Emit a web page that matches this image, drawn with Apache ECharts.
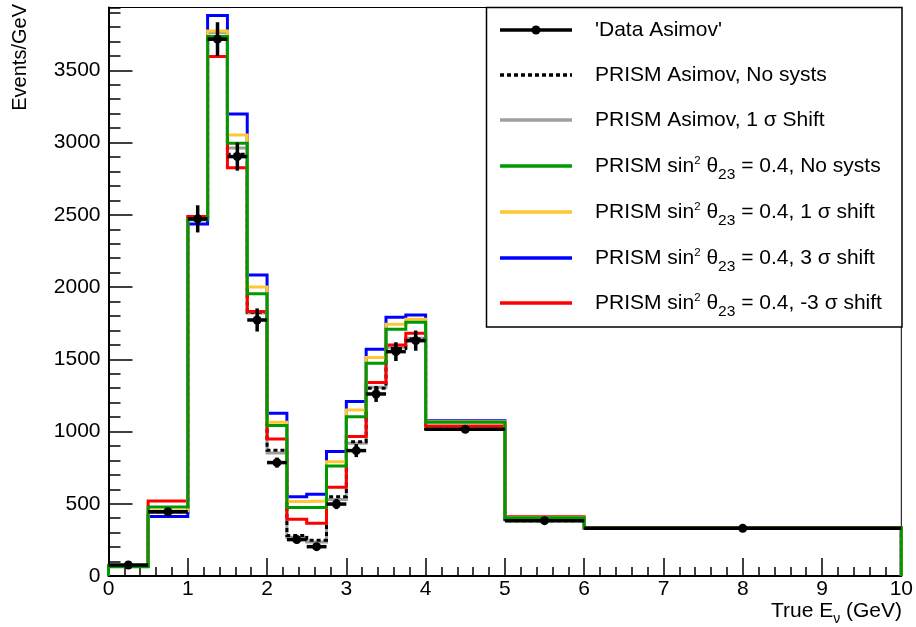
<!DOCTYPE html>
<html>
<head>
<meta charset="utf-8">
<script src="https://cdn.jsdelivr.net/npm/echarts@6/dist/echarts.min.js"></script>
<style>
html,body{margin:0;padding:0;background:#fff;}
#chart{width:916px;height:627px;}
</style>
</head>
<body>
<div id="chart"></div>
<script>
// ---- data ----
const binEdges = [0, 0.5, 1, 1.25, 1.5, 1.75, 2, 2.25, 2.5, 2.75, 3, 3.25, 3.5, 3.75, 4, 5, 6, 10];
const dataAsimov    = [76, 445, 2472, 3716, 2903, 1772, 785, 252, 203, 498, 868, 1260, 1553, 1629, 1016, 383, 330];
const dataAsimovErr = [10, 20, 94, 117, 97, 80, 35, 25, 25, 35, 45, 55, 65, 70, 15, 10, 5];
const prismNoSysts  = [72, 445, 2472, 3716, 2920, 1826, 870, 280, 248, 549, 930, 1300, 1575, 1640, 1016, 383, 330];
const prism1Sigma   = [70, 440, 2468, 3760, 2963, 1821, 852, 268, 235, 530, 919, 1306, 1583, 1646, 1020, 388, 330];
const th04NoSysts   = [64, 478, 2465, 3734, 2996, 1953, 1041, 475, 475, 762, 1103, 1473, 1708, 1756, 1064, 403, 332];
const th04Shift1    = [68, 452, 2468, 3773, 3053, 2001, 1064, 515, 519, 791, 1149, 1512, 1743, 1777, 1068, 405, 332];
const th04Shift3    = [66, 411, 2437, 3879, 3198, 2084, 1126, 549, 566, 861, 1207, 1570, 1791, 1807, 1074, 402, 332];
const th04ShiftM3   = [70, 519, 2488, 3596, 2825, 1830, 949, 392, 365, 614, 965, 1339, 1599, 1680, 1039, 410, 333];
const xTicks = [0, 1, 2, 3, 4, 5, 6, 7, 8, 9, 10];
const yTicks = [0, 500, 1000, 1500, 2000, 2500, 3000, 3500];
const legendNames = [
  "'Data Asimov'",
  'PRISM Asimov, No systs',
  'PRISM Asimov, 1 σ Shift',
  'PRISM sin² θ23 = 0.4, No systs',
  'PRISM sin² θ23 = 0.4, 1 σ shift',
  'PRISM sin² θ23 = 0.4, 3 σ shift',
  'PRISM sin² θ23 = 0.4, -3 σ shift'
];
const yMax = 3935;

const FONT = 'Liberation Sans';

function stepPoints(vals) {
  const pts = [[binEdges[0], 0]];
  for (let i = 0; i < vals.length; i++) pts.push([binEdges[i], vals[i]]);
  pts.push([binEdges[binEdges.length - 1], vals[vals.length - 1]]);
  pts.push([binEdges[binEdges.length - 1], 0]);
  return pts;
}
function histSeries(name, vals, color, dash, z) {
  return {
    name: name, type: 'line', step: 'end', data: stepPoints(vals),
    symbol: 'none', showSymbol: false, silent: true, animation: false, z: z,
    lineStyle: { color: color, width: 3, type: dash || 'solid', cap: 'butt', join: 'miter' }
  };
}
const dataRows = dataAsimov.map((v, i) => [binEdges[i], binEdges[i + 1], v, dataAsimovErr[i]]);

// text measuring for super/subscript composition
const mctx = document.createElement('canvas').getContext('2d');
function textW(t, size) { mctx.font = size + 'px "' + FONT + '"'; return mctx.measureText(t).width; }
function composeText(parts, x, y, alignRight, z) {
  const total = parts.reduce((s, p) => s + textW(p.t, p.s), 0);
  let cx = alignRight ? x - total : x;
  const out = [];
  parts.forEach(p => {
    out.push({
      type: 'text', x: cx, y: y + (p.dy || 0), z: z,
      style: { text: p.t, fontSize: p.s, fontFamily: FONT, fill: '#000', align: 'left', verticalAlign: 'middle' }
    });
    cx += textW(p.t, p.s);
  });
  return out;
}
function legendParts(name) {
  const m = name.match(/^PRISM sin² θ23(.*)$/);
  if (m) return [
    { t: 'PRISM sin', s: 21 }, { t: '2', s: 11.5, dy: -5 }, { t: ' θ', s: 21 },
    { t: '23', s: 15.5, dy: 8.5 }, { t: m[1], s: 21 }
  ];
  return [{ t: name, s: 21 }];
}

const chart = echarts.init(document.getElementById('chart'), null, { renderer: 'canvas' });

// legend drawn as graphic
const legX = 486.5, legY = 7.5, legW = 415.5, legH = 319.5;
const rowY = [30, 75, 120, 166, 212, 258, 303];
const legColors = ['#000', '#000', '#9e9e9e', '#009900', '#ffc833', '#0000ff', '#ff0000'];
let graphics = [{
  type: 'rect', shape: { x: legX, y: legY, width: legW, height: legH },
  style: { fill: '#fff', stroke: '#000', lineWidth: 1.5 }, z: 100
}];
legendNames.forEach((name, i) => {
  graphics.push({
    type: 'line', shape: { x1: 500, y1: rowY[i], x2: 572, y2: rowY[i] },
    style: { stroke: legColors[i], lineWidth: 3.5, lineDash: i === 1 ? [4, 3] : null }, z: 101
  });
  if (i === 0) {
    graphics.push({ type: 'circle', shape: { cx: 536, cy: rowY[i], r: 4.5 }, style: { fill: '#000' }, z: 102 });
  }
  graphics = graphics.concat(composeText(legendParts(name), 595, rowY[i], false, 102));
});
// axis titles
graphics.push({
  type: 'text', x: 20.5, y: 4, rotation: Math.PI / 2,
  style: { text: 'Events/GeV', fontFamily: FONT, fontSize: 20, fill: '#000', align: 'right', verticalAlign: 'middle' }, z: 50
});
graphics = graphics.concat(composeText([
  { t: 'True E', s: 21 }, { t: 'ν', s: 14, dy: 7.3 }, { t: ' (GeV)', s: 21 }
], 902, 611.7, true, 50));

const option = {
  animation: false,
  backgroundColor: '#fff',
  grid: { left: 108.5, right: 14, top: 7.5, bottom: 51, show: true, borderColor: '#000', borderWidth: 1, backgroundColor: 'transparent' },
  xAxis: [{
    type: 'value', min: 0, max: 10, interval: 1,
    axisLine: { show: true, onZero: false, lineStyle: { color: '#000', width: 2 } },
    axisTick: { show: true, inside: true, length: 18, lineStyle: { color: '#000', width: 1.5 } },
    minorTick: { show: true, splitNumber: 5, length: 9, lineStyle: { color: '#000', width: 1.5 } },
    axisLabel: { show: true, color: '#000', fontFamily: FONT, fontSize: 21, margin: 3,
      formatter: v => (xTicks.indexOf(v) >= 0 ? String(v) : '') },
    splitLine: { show: false }
  }],
  yAxis: [{
    type: 'value', min: 0, max: yMax, interval: 500, position: 'left',
    axisLine: { show: true, onZero: false, lineStyle: { color: '#000', width: 2 } },
    axisTick: { show: true, inside: true, length: 24, lineStyle: { color: '#000', width: 1.5 } },
    axisLabel: { show: true, color: '#000', fontFamily: FONT, fontSize: 21, margin: 8, showMaxLabel: false,
      formatter: v => (yTicks.indexOf(v) >= 0 ? String(v) : '') },
    splitLine: { show: false }
  }, {
    type: 'value', min: 0, max: yMax, interval: 100, position: 'left', offset: 0,
    axisLine: { show: false },
    axisTick: { show: true, inside: true, length: 12, lineStyle: { color: '#000', width: 1.5 } },
    axisLabel: { show: false },
    splitLine: { show: false }
  }],
  graphic: graphics,
  series: [
    histSeries(legendNames[2], prism1Sigma, '#9e9e9e', 'solid', 2),
    histSeries(legendNames[1], prismNoSysts, '#000', [4, 3], 3),
    histSeries(legendNames[6], th04ShiftM3, '#ff0000', 'solid', 4),
    histSeries(legendNames[5], th04Shift3, '#0000ff', 'solid', 5),
    histSeries(legendNames[4], th04Shift1, '#ffc833', 'solid', 6),
    histSeries(legendNames[3], th04NoSysts, '#009900', 'solid', 7),
    {
      name: legendNames[0], type: 'custom', z: 8, silent: true,
      data: dataRows,
      encode: { x: [0, 1], y: [2] },
      renderItem: function (params, api) {
        const xlo = api.value(0), xhi = api.value(1), y = api.value(2), e = api.value(3);
        const xm = (xlo + xhi) / 2;
        const a = api.coord([xlo, y]), b = api.coord([xhi, y]);
        const c = api.coord([xm, y - e]), d = api.coord([xm, y + e]);
        const m = api.coord([xm, y]);
        return {
          type: 'group', children: [
            { type: 'line', shape: { x1: a[0], y1: a[1], x2: b[0], y2: b[1] }, style: { stroke: '#000', lineWidth: 3.5 } },
            { type: 'line', shape: { x1: c[0], y1: c[1], x2: d[0], y2: d[1] }, style: { stroke: '#000', lineWidth: 3.5 } },
            { type: 'circle', shape: { cx: m[0], cy: m[1], r: 4.5 }, style: { fill: '#000' } }
          ]
        };
      }
    }
  ]
};
chart.setOption(option);
</script>
</body>
</html>
